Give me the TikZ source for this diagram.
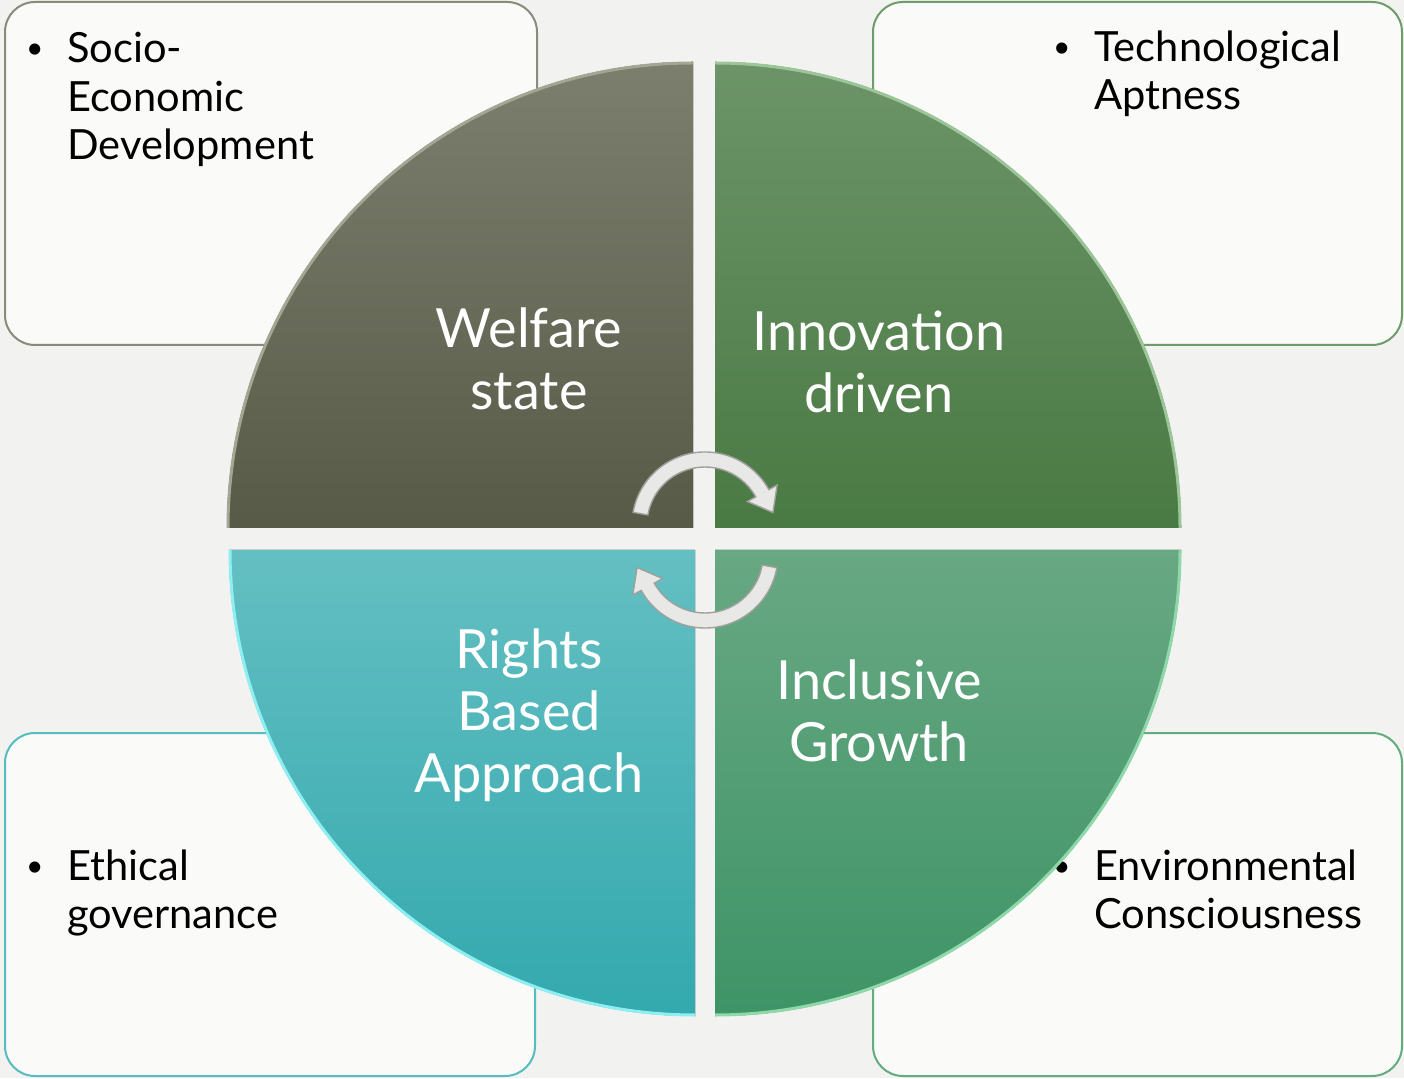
\documentclass[tikz,border=0pt]{standalone}
\usepackage{fontspec}
\setmainfont{Lato}
\usetikzlibrary{calc}
\definecolor{bgcol}{HTML}{F2F2F0}
\definecolor{boxfill}{HTML}{FAFAF8}
\definecolor{welftop}{HTML}{7C7F6D}
\definecolor{welfbot}{HTML}{575A47}
\definecolor{welfedge}{HTML}{A4A694}
\definecolor{innotop}{HTML}{6C9468}
\definecolor{innobot}{HTML}{4A7A44}
\definecolor{innoedge}{HTML}{9CC69A}
\definecolor{righttop}{HTML}{64BFC2}
\definecolor{rightbot}{HTML}{33A9AE}
\definecolor{rightedge}{HTML}{8EEFF2}
\definecolor{incltop}{HTML}{68A883}
\definecolor{inclbot}{HTML}{3E9466}
\definecolor{incledge}{HTML}{8ED8AA}
\definecolor{socline}{HTML}{8A8B7C}
\definecolor{tecline}{HTML}{6E9C6A}
\definecolor{ethline}{HTML}{56BCC0}
\definecolor{envline}{HTML}{62AC80}
\definecolor{arrowfill}{HTML}{E8E8E6}
\definecolor{arrowline}{HTML}{A0A09C}
\newcommand{\bulletmark}{\llap{{\fontsize{15}{15}\selectfont\raisebox{2pt}{\textbullet}}\hspace{12pt}}}
\begin{document}
\begin{tikzpicture}
[x=0.5pt, y=0.5pt,
 infobox/.style={line width=1pt, fill=boxfill, rounded corners=15pt},
 bullettext/.style={anchor=north west, inner sep=0pt, align=left, font=\fontsize{20.8}{24.3}\selectfont},
 sectortext/.style={anchor=north, inner sep=0pt, align=center, text=white, font=\fontsize{27}{31}\selectfont},
 rim/.style={line width=1.5pt},
 cyclearrow/.style={fill=arrowfill, draw=arrowline, line width=0.7pt}]
\fill[bgcol] (0,0) rectangle (1404,1078);
\useasboundingbox (0,0) rectangle (1404,1078);
% corner boxes
\draw[infobox, draw=socline] (5,733) rectangle (537,1076);
\draw[infobox, draw=tecline] (873,733) rectangle (1402,1076);
\draw[infobox, draw=ethline] (5,2) rectangle (535,345);
\draw[infobox, draw=envline] (873,2) rectangle (1402,345);
\node (socio) [bullettext] at (67,1046) {\bulletmark Socio-\\ Economic\\ Development};
\node (techno) [bullettext] at (1094,1048) {\bulletmark Technological\\ Aptness};
\node (ethic) [bullettext] at (67,229) {\bulletmark Ethical\\ governance};
\node (enviro) [bullettext] at (1094,229) {\bulletmark Environmental\\ Consciousness};
% quarter circle
\coordinate (wcorner) at (693,550);
\coordinate (icorner) at (715,550);
\coordinate (rcorner) at (695,528);
\coordinate (gcorner) at (715,528);
\fill[top color=welftop, bottom color=welfbot] (wcorner) -- ++(0,466) arc[start angle=90, end angle=180, radius=466] -- cycle;
\fill[top color=innotop, bottom color=innobot] (icorner) -- ++(466,0) arc[start angle=0, end angle=90, radius=466] -- cycle;
\fill[top color=righttop, bottom color=rightbot] (rcorner) -- ++(-466,0) arc[start angle=180, end angle=270, radius=466] -- cycle;
\fill[top color=incltop, bottom color=inclbot] (gcorner) -- ++(0,-466) arc[start angle=270, end angle=360, radius=466] -- cycle;
\draw[rim, welfedge] ($(wcorner)+(0,465)$) arc[start angle=90, end angle=180, radius=465];
\draw[rim, innoedge] ($(icorner)+(465,0)$) arc[start angle=0, end angle=90, radius=465];
\draw[rim, rightedge] ($(rcorner)+(-465,0)$) arc[start angle=180, end angle=270, radius=465];
\draw[rim, incledge] ($(gcorner)+(0,-465)$) arc[start angle=270, end angle=360, radius=465];
\node (welfare) [sectortext] at (529,771) {Welfare\\ state};
\node (innov) [sectortext] at (879,767) {Innovation\\ driven};
\node (rights) [sectortext] at (529,450) {Rights\\ Based\\ Approach};
\node (inclus) [sectortext] at (879,419) {Inclusive\\ Growth};
% cycle arrows
\coordinate (tc) at (705,553);
\coordinate (bc) at (705,523);
\filldraw[cyclearrow] ($(tc)+(170:73)$) arc[start angle=170, end angle=29, radius=73] -- ($(tc)+(29:82.5)$) -- ($(tc)+(29:65.5)+(-61:22)$) -- ($(tc)+(29:48.5)$) -- ($(tc)+(29:58)$) arc[start angle=29, end angle=170, radius=58] -- cycle;
\filldraw[cyclearrow] ($(bc)+(350:73)$) arc[start angle=350, end angle=209, radius=73] -- ($(bc)+(209:82.5)$) -- ($(bc)+(209:65.5)+(119:22)$) -- ($(bc)+(209:48.5)$) -- ($(bc)+(209:58)$) arc[start angle=209, end angle=350, radius=58] -- cycle;
\end{tikzpicture}
\end{document}
